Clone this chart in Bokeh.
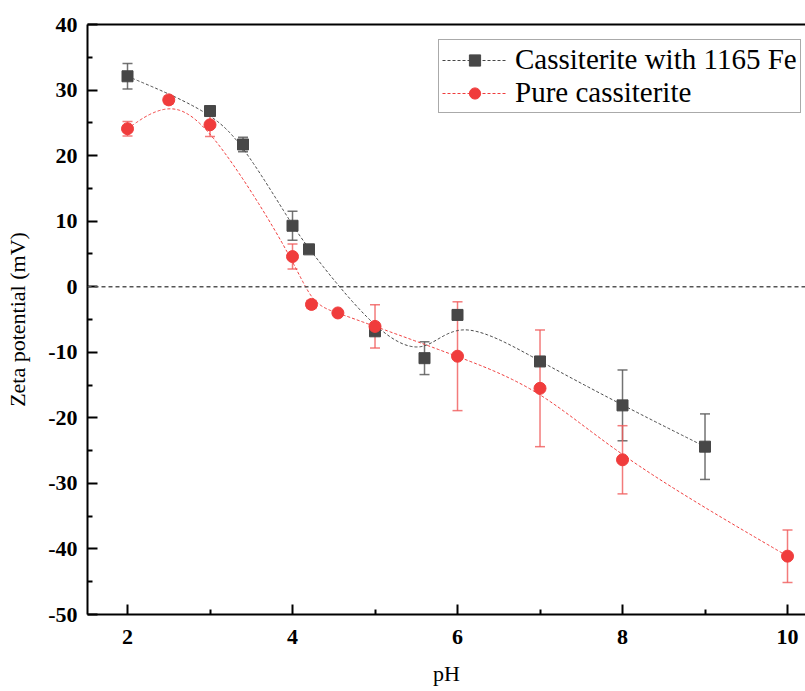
import numpy as np
from bokeh.plotting import figure
from bokeh.models import (Whisker, TeeHead, ColumnDataSource, Legend, LegendItem,
                          LinearAxis, Span, FixedTicker, Range1d)
from bokeh.embed import file_html
from bokeh.resources import INLINE

# ---- data ----
fe_ph = [2, 3, 3.4, 4, 4.2, 5, 5.6, 6, 7, 8, 9]
fe_zeta = [32.1, 26.8, 21.7, 9.3, 5.7, -6.8, -10.9, -4.3, -11.4, -18.1, -24.4]
fe_err = [1.95, 0.4, 1.1, 2.2, 0.6, 0.5, 2.5, 0.7, 0.4, 5.4, 5.0]

pure_ph = [2, 2.5, 3, 4, 4.23, 4.55, 5, 6, 7, 8, 10]
pure_zeta = [24.1, 28.5, 24.7, 4.6, -2.7, -4.0, -6.05, -10.6, -15.5, -26.4, -41.1]
pure_err = [1.1, 0.6, 1.8, 1.9, 0.6, 0.3, 3.3, 8.3, 8.9, 5.2, 4.0]

x_ticks = [2, 4, 6, 8, 10]
y_ticks = [-50, -40, -30, -20, -10, 0, 10, 20, 30, 40]

FE_COLOR = "#474747"
PURE_COLOR = "#f03c3c"
SERIF = "Liberation Serif"


def bspline(xs, ys, n=40):
    """Uniform cubic B-spline with the data points as control points (endpoints clamped)."""
    px = [xs[0]] * 2 + list(xs) + [xs[-1]] * 2
    py = [ys[0]] * 2 + list(ys) + [ys[-1]] * 2
    t = np.linspace(0, 1, n)
    b0 = (1 - t) ** 3 / 6
    b1 = (3 * t ** 3 - 6 * t ** 2 + 4) / 6
    b2 = (-3 * t ** 3 + 3 * t ** 2 + 3 * t + 1) / 6
    b3 = t ** 3 / 6
    ox, oy = [], []
    for i in range(len(px) - 3):
        ox.extend(b0 * px[i] + b1 * px[i + 1] + b2 * px[i + 2] + b3 * px[i + 3])
        oy.extend(b0 * py[i] + b1 * py[i + 1] + b2 * py[i + 2] + b3 * py[i + 3])
    return ox, oy


p = figure(width=805, height=691,
           x_range=Range1d(1.515, 10.218), y_range=Range1d(-50, 40),
           output_backend="svg", toolbar_location=None,
           min_border_left=87, min_border_top=24, min_border_bottom=77, min_border_right=0)
p.grid.visible = False
p.outline_line_color = None
p.background_fill_color = "white"
p.border_fill_color = "white"

# axes
for ax in (p.xaxis[0], p.yaxis[0]):
    ax.axis_line_width = 2
    ax.axis_line_color = "black"
    ax.major_tick_in = 10
    ax.major_tick_out = 0
    ax.minor_tick_in = 5
    ax.minor_tick_out = 0
    ax.major_tick_line_width = 2
    ax.minor_tick_line_width = 2
    ax.major_label_text_font = SERIF
    ax.major_label_text_font_style = "bold"
    ax.major_label_text_font_size = "22px"
    ax.major_label_text_color = "black"
    ax.axis_label_text_font = SERIF
    ax.axis_label_text_font_style = "normal"
    ax.axis_label_text_font_size = "22px"
    ax.axis_label_text_color = "black"
    ax.major_label_standoff = 10

p.xaxis[0].ticker = FixedTicker(ticks=x_ticks, minor_ticks=[3, 5, 7, 9])
p.yaxis[0].ticker = FixedTicker(ticks=y_ticks, minor_ticks=[-45, -35, -25, -15, -5, 5, 15, 25, 35])
p.xaxis[0].major_label_overrides = {t: str(t) for t in x_ticks}
p.yaxis[0].major_label_overrides = {t: str(t) for t in y_ticks}
p.xaxis[0].axis_label = "pH"
p.yaxis[0].axis_label = "Zeta potential (mV)"
p.xaxis[0].major_label_standoff = 15
p.xaxis[0].axis_label_standoff = 14
p.yaxis[0].axis_label_standoff = 15

top = LinearAxis(axis_line_width=2, axis_line_color="black",
                 major_tick_in=0, major_tick_out=0, minor_tick_in=0, minor_tick_out=0,
                 major_label_text_font_size="0px", ticker=FixedTicker(ticks=[]))
p.add_layout(top, "above")

# zero line
p.add_layout(Span(location=0, dimension="width", line_dash="4 3",
                  line_color="#555555", line_width=1.5))

# smooth curves
fx, fy = bspline(fe_ph, fe_zeta)
rx, ry = bspline(pure_ph, pure_zeta)
fe_line = p.line(fx, fy, line_color=FE_COLOR, line_dash="3 2", line_width=1)
pure_line = p.line(rx, ry, line_color=PURE_COLOR, line_dash="3 2", line_width=1)

# error bars
fe_src = ColumnDataSource(dict(x=fe_ph, y=fe_zeta,
                               lo=[v - e for v, e in zip(fe_zeta, fe_err)],
                               hi=[v + e for v, e in zip(fe_zeta, fe_err)]))
pure_src = ColumnDataSource(dict(x=pure_ph, y=pure_zeta,
                                 lo=[v - e for v, e in zip(pure_zeta, pure_err)],
                                 hi=[v + e for v, e in zip(pure_zeta, pure_err)]))

p.add_layout(Whisker(base="x", lower="lo", upper="hi", source=fe_src,
                     line_color="#5a5a5a", line_width=1.5, line_alpha=0.85,
                     upper_head=TeeHead(size=10, line_color="#5a5a5a", line_width=1.5, line_alpha=0.85),
                     lower_head=TeeHead(size=10, line_color="#5a5a5a", line_width=1.5, line_alpha=0.85)))
p.add_layout(Whisker(base="x", lower="lo", upper="hi", source=pure_src,
                     line_color="#f05a5a", line_width=1.5, line_alpha=0.8,
                     upper_head=TeeHead(size=10, line_color="#f05a5a", line_width=1.5, line_alpha=0.8),
                     lower_head=TeeHead(size=10, line_color="#f05a5a", line_width=1.5, line_alpha=0.8)))

fe_sc = p.scatter("x", "y", source=fe_src, marker="square", size=11,
                  fill_color=FE_COLOR, line_color=FE_COLOR)
pure_sc = p.scatter("x", "y", source=pure_src, marker="circle", size=12,
                    fill_color=PURE_COLOR, line_color=PURE_COLOR)

legend = Legend(items=[LegendItem(label="Cassiterite with 1165 Fe", renderers=[fe_line, fe_sc]),
                       LegendItem(label="Pure cassiterite", renderers=[pure_line, pure_sc])],
                location=(351, 501))
legend.label_text_font = SERIF
legend.label_text_font_size = "29px"
legend.label_text_color = "black"
legend.glyph_width = 65
legend.glyph_height = 28
legend.label_height = 30
legend.label_standoff = 8
legend.padding = 3
legend.spacing = 0
legend.margin = 0
legend.border_line_color = "#555555"
legend.border_line_width = 1
legend.background_fill_alpha = 1
p.add_layout(legend, "center")

open("out.html", "w").write(file_html(p, INLINE))
